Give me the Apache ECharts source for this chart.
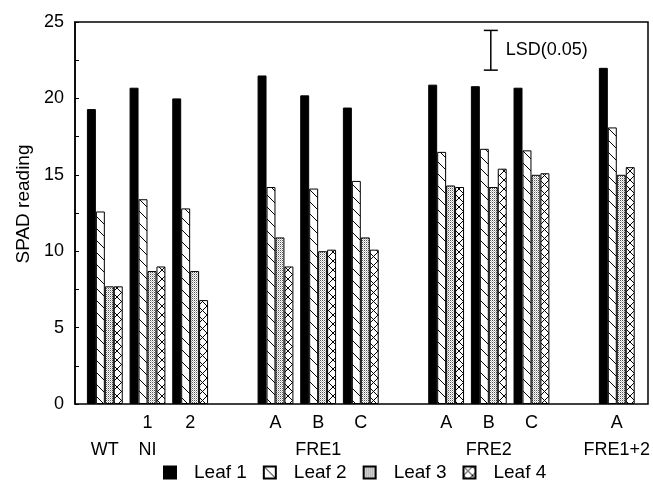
<!DOCTYPE html>
<html>
<head>
<meta charset="utf-8">
<script src="https://cdn.jsdelivr.net/npm/echarts@6/dist/echarts.min.js"></script>
<style>
  html, body { margin: 0; padding: 0; background: #fff; }
  #chart { width: 653px; height: 488px; }
</style>
</head>
<body>
<div id="chart"></div>
<script>
// categories (gaps are empty slots between strain groups)
var categories = ['WT', 'NI-1', 'NI-2', 'gap1', 'FRE1-A', 'FRE1-B', 'FRE1-C', 'gap2',
  'FRE2-A', 'FRE2-B', 'FRE2-C', 'gap3', 'FRE1+2-A'];
// two-line tick labels: line 1 = line, line 2 = strain
var tickLabels = ['\nWT', '1\nNI', '2', '', 'A', 'B\nFRE1', 'C', '', 'A', 'B\nFRE2', 'C', '', 'A\nFRE1+2'];

var leafNames = ['Leaf 1', 'Leaf 2', 'Leaf 3', 'Leaf 4'];
var leaf1 = [19.3, 20.7, 20.0, null, 21.5, 20.2, 19.4, null, 20.9, 20.8, 20.7, null, 22.0];
var leaf2 = [12.6, 13.4, 12.8, null, 14.2, 14.1, 14.6, null, 16.5, 16.7, 16.6, null, 18.1];
var leaf3 = [7.7, 8.7, 8.7, null, 10.9, 10.0, 10.9, null, 14.3, 14.2, 15.0, null, 15.0];
var leaf4 = [7.7, 9.0, 6.8, null, 9.0, 10.1, 10.1, null, 14.2, 15.4, 15.1, null, 15.5];

// LSD(0.05) error bar: drawn at the FRE2-B slot
var lsdCategory = 9;
var lsdTop = 24.45;
var lsdValue = 2.6;

var yTicks = [0, 5, 10, 15, 20, 25];

var FONT = '"Liberation Sans", Arial, Helvetica, sans-serif';

// fill patterns
function makePattern(size, draw) {
  var c = document.createElement('canvas');
  c.width = size; c.height = size;
  var ctx = c.getContext('2d');
  ctx.fillStyle = '#fff';
  ctx.fillRect(0, 0, size, size);
  draw(ctx, size);
  return { image: c, repeat: 'repeat' };
}
var hatch = makePattern(12, function (ctx, s) {
  ctx.strokeStyle = '#000'; ctx.lineWidth = 1;
  ctx.beginPath();
  ctx.moveTo(-1, -1); ctx.lineTo(s + 1, s + 1);
  ctx.stroke();
});
var dots = makePattern(2, function (ctx) {
  ctx.fillStyle = '#555'; ctx.fillRect(0, 0, 1, 1);
  ctx.fillStyle = '#bbb'; ctx.fillRect(1, 1, 1, 1);
});
var cross = makePattern(9, function (ctx, s) {
  ctx.strokeStyle = '#000'; ctx.lineWidth = 1;
  ctx.beginPath();
  ctx.moveTo(-1, -1); ctx.lineTo(s + 1, s + 1);
  ctx.moveTo(s + 1, -1); ctx.lineTo(-1, s + 1);
  ctx.stroke();
});

var fills = ['#000', hatch, dots, cross];
var values = [leaf1, leaf2, leaf3, leaf4];

var myChart = echarts.init(document.getElementById('chart'));

var series = leafNames.map(function (name, i) {
  return {
    name: name,
    type: 'bar',
    xAxisIndex: 1,
    yAxisIndex: 1,
    barGap: '0%',
    barCategoryGap: '16%',
    itemStyle: { color: fills[i], borderColor: '#000', borderWidth: 1 },
    emphasis: { disabled: true },
    data: values[i]
  };
});

series.push({
  type: 'custom',
  xAxisIndex: 1,
  yAxisIndex: 1,
  silent: true,
  data: [[lsdCategory, lsdTop, lsdTop - lsdValue]],
  encode: { x: 0, y: [1, 2] },
  renderItem: function (params, api) {
    var p1 = api.coord([api.value(0), api.value(1)]);
    var p2 = api.coord([api.value(0), api.value(2)]);
    var x = p1[0] + 2;
    var st = { stroke: '#000', lineWidth: 1.5 };
    return {
      type: 'group',
      children: [
        { type: 'line', shape: { x1: x, y1: p1[1], x2: x, y2: p2[1] }, style: st },
        { type: 'line', shape: { x1: x - 7, y1: p1[1], x2: x + 7, y2: p1[1] }, style: st },
        { type: 'line', shape: { x1: x - 7, y1: p2[1], x2: x + 7, y2: p2[1] }, style: st },
        {
          type: 'text',
          x: x + 15,
          y: (p1[1] + p2[1]) / 2,
          style: {
            text: 'LSD(0.05)', fill: '#000', font: '18px ' + FONT,
            verticalAlign: 'middle', align: 'left'
          }
        }
      ]
    };
  }
});

var option = {
  animation: false,
  backgroundColor: '#fff',
  textStyle: { fontFamily: FONT, color: '#000' },
  grid: [
    // frame + y axis
    { left: 75, right: 5, top: 22, bottom: 84, show: true, borderColor: '#000', borderWidth: 1.5, backgroundColor: 'transparent' },
    // bars (inset so the outer groups sit off the frame)
    { left: 83.5, right: 13.5, top: 22, bottom: 84 }
  ],
  legend: {
    data: leafNames,
    top: 458,
    left: 158,
    icon: 'rect',
    itemWidth: 12,
    itemHeight: 12,
    itemGap: 16,
    selectedMode: false,
    textStyle: { fontSize: 19, color: '#000', fontFamily: FONT, padding: [0, 0, 0, 13] }
  },
  xAxis: [
    { gridIndex: 0, type: 'value', min: 0, max: 1, show: false },
    {
      gridIndex: 1,
      type: 'category',
      data: categories,
      axisLine: { show: false },
      axisTick: { show: false },
      axisLabel: {
        interval: 0,
        margin: 6,
        fontSize: 18,
        lineHeight: 27,
        color: '#000',
        fontFamily: FONT,
        formatter: function (v, idx) { return tickLabels[idx]; }
      }
    }
  ],
  yAxis: [
    {
      gridIndex: 0,
      type: 'value',
      min: yTicks[0],
      max: yTicks[yTicks.length - 1],
      interval: 5,
      name: 'SPAD reading',
      nameLocation: 'middle',
      nameGap: 42,
      nameTextStyle: { fontSize: 19, color: '#000', fontFamily: FONT, padding: [0, 0, 0, 18] },
      axisLine: { show: true, lineStyle: { color: '#000', width: 1.5 } },
      axisTick: { show: true, inside: true, length: 4, lineStyle: { color: '#000' } },
      minorTick: { show: true, splitNumber: 2, length: 4, lineStyle: { color: '#000' } },
      splitLine: { show: false },
      axisLabel: { fontSize: 18, color: '#000', margin: 11, fontFamily: FONT }
    },
    { gridIndex: 1, type: 'value', min: 0, max: 25, show: false }
  ],
  series: series
};

myChart.setOption(option);
</script>
</body>
</html>
